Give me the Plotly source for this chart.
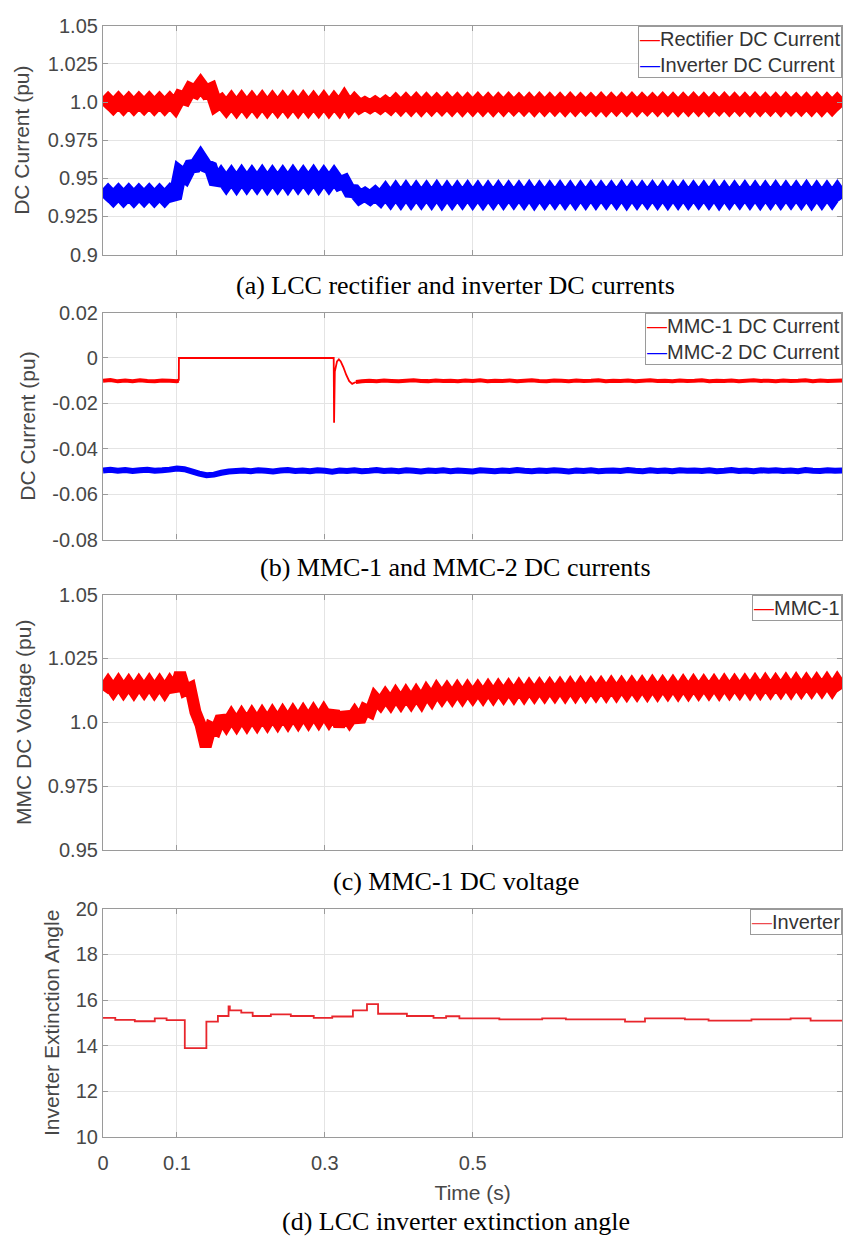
import plotly.graph_objects as go

# ---------------------------------------------------------------- data
# Ripple waveforms are sampled at their turning points (every 1/144 s);
# the thick stroke stands for the high-frequency ripple band around them.
N_RIPPLE = 145
t_ripple = [k / 144 for k in range(N_RIPPLE)]

rectifier_current = [
    0.9972, 1.0008, 0.9973, 1.0009, 0.9972, 1.0008, 0.9971, 1.0008, 0.9973, 1.0009,
    0.9972, 1.0008, 0.9972, 1.0009, 0.9971, 1.0033, 1.0022, 1.0083, 1.0067, 1.0113,
    1.0067, 1.0083, 0.9982, 1.0005, 0.9963, 1.0007, 0.9962, 1.0008, 0.9963, 1.0007,
    0.9963, 1.0008, 0.9962, 1.0007, 0.9963, 1.0008, 0.9963, 1.0007, 0.9962, 1.0008,
    0.9963, 1.0007, 0.9963, 1.0008, 0.9962, 1.0007, 0.9965, 1.0018, 0.9965, 1.0005,
    0.9970, 0.9990, 0.9970, 0.9992, 0.9969, 0.9995, 0.9968, 1.0003, 0.9967, 1.0003,
    0.9967, 1.0004, 0.9966, 1.0003, 0.9967, 1.0003, 0.9968, 1.0004, 0.9967, 1.0003,
    0.9966, 1.0003, 0.9967, 1.0004, 0.9967, 1.0003, 0.9966, 1.0003, 0.9967, 1.0004,
    0.9968, 1.0003, 0.9967, 1.0003, 0.9966, 1.0004, 0.9967, 1.0003, 0.9967, 1.0003,
    0.9966, 1.0004, 0.9967, 1.0003, 0.9968, 1.0003, 0.9967, 1.0004, 0.9966, 1.0003,
    0.9967, 1.0003, 0.9967, 1.0004, 0.9966, 1.0003, 0.9968, 1.0003, 0.9967, 1.0004,
    0.9967, 1.0003, 0.9966, 1.0003, 0.9967, 1.0004, 0.9967, 1.0003, 0.9966, 1.0003,
    0.9968, 1.0004, 0.9967, 1.0003, 0.9967, 1.0003, 0.9966, 1.0004, 0.9967, 1.0003,
    0.9967, 1.0003, 0.9966, 1.0004, 0.9968, 1.0003, 0.9967, 1.0003, 0.9967, 1.0004,
    0.9966, 1.0003, 0.9967, 1.0003, 0.9967,
]

inverter_current = [
    0.9370, 0.9406, 0.9371, 0.9407, 0.9370, 0.9406, 0.9369, 0.9406, 0.9371, 0.9407,
    0.9370, 0.9406, 0.9370, 0.9407, 0.9369, 0.9538, 0.9512, 0.9578, 0.9582, 0.9633,
    0.9582, 0.9568, 0.9465, 0.9514, 0.9466, 0.9514, 0.9465, 0.9515, 0.9466, 0.9514,
    0.9466, 0.9515, 0.9465, 0.9514, 0.9466, 0.9514, 0.9465, 0.9515, 0.9466, 0.9514,
    0.9466, 0.9515, 0.9465, 0.9514, 0.9466, 0.9514, 0.9466, 0.9480, 0.9418, 0.9415,
    0.9375, 0.9395, 0.9372, 0.9400, 0.9368, 0.9412, 0.9366, 0.9414, 0.9366, 0.9415,
    0.9366, 0.9414, 0.9367, 0.9414, 0.9366, 0.9415, 0.9365, 0.9414, 0.9366, 0.9414,
    0.9367, 0.9415, 0.9366, 0.9414, 0.9365, 0.9414, 0.9366, 0.9415, 0.9366, 0.9414,
    0.9367, 0.9414, 0.9366, 0.9415, 0.9365, 0.9414, 0.9366, 0.9414, 0.9367, 0.9415,
    0.9366, 0.9414, 0.9365, 0.9414, 0.9366, 0.9415, 0.9366, 0.9414, 0.9367, 0.9414,
    0.9366, 0.9415, 0.9365, 0.9414, 0.9366, 0.9414, 0.9367, 0.9415, 0.9366, 0.9414,
    0.9365, 0.9414, 0.9366, 0.9415, 0.9366, 0.9414, 0.9367, 0.9414, 0.9366, 0.9415,
    0.9365, 0.9414, 0.9366, 0.9414, 0.9367, 0.9415, 0.9366, 0.9414, 0.9365, 0.9414,
    0.9366, 0.9415, 0.9366, 0.9414, 0.9367, 0.9414, 0.9366, 0.9415, 0.9365, 0.9414,
    0.9366, 0.9414, 0.9367, 0.9415, 0.9366,
]

mmc1_voltage = [
    1.0123, 1.0153, 1.0124, 1.0154, 1.0123, 1.0152, 1.0122, 1.0153, 1.0124, 1.0154,
    1.0123, 1.0153, 1.0122, 1.0154, 1.0124, 1.0193, 1.0125, 1.0135, 1.0040, 0.9990,
    0.9905, 0.9980, 0.9970, 1.0021, 0.9990, 1.0023, 0.9992, 1.0025, 0.9994, 1.0027,
    0.9996, 1.0029, 0.9998, 1.0031, 1.0000, 1.0033, 1.0002, 1.0035, 1.0004, 1.0037,
    1.0006, 1.0039, 1.0008, 1.0041, 1.0009, 1.0041, 0.9985, 1.0035, 1.0005, 1.0035,
    1.0005, 1.0050, 1.0040, 1.0095, 1.0072, 1.0103, 1.0075, 1.0108, 1.0078, 1.0110,
    1.0080, 1.0112, 1.0082, 1.0119, 1.0090, 1.0126, 1.0097, 1.0127, 1.0098, 1.0129,
    1.0099, 1.0130, 1.0101, 1.0131, 1.0102, 1.0133, 1.0103, 1.0134, 1.0105, 1.0135,
    1.0106, 1.0137, 1.0107, 1.0138, 1.0109, 1.0139, 1.0110, 1.0140, 1.0111, 1.0141,
    1.0111, 1.0142, 1.0112, 1.0143, 1.0113, 1.0143, 1.0114, 1.0144, 1.0114, 1.0145,
    1.0115, 1.0145, 1.0116, 1.0146, 1.0117, 1.0147, 1.0117, 1.0148, 1.0118, 1.0148,
    1.0119, 1.0149, 1.0119, 1.0150, 1.0120, 1.0151, 1.0121, 1.0151, 1.0122, 1.0152,
    1.0122, 1.0153, 1.0123, 1.0153, 1.0124, 1.0154, 1.0124, 1.0155, 1.0125, 1.0156,
    1.0126, 1.0156, 1.0127, 1.0157, 1.0127, 1.0158, 1.0128, 1.0158, 1.0129, 1.0159,
    1.0130, 1.0160, 1.0130, 1.0161, 1.0131,
]

# MMC-1 DC current: noisy level, blocked interval with spike, noisy level again
mmc1_t_pre = [0.00, 0.01, 0.02, 0.03, 0.04, 0.05, 0.06, 0.07, 0.08, 0.09, 0.10, 0.1025]
mmc1_i_pre = [-0.0100, -0.0097, -0.0103, -0.0099, -0.0102, -0.0098, -0.0101, -0.0103,
              -0.0099, -0.0100, -0.0102, -0.0100]
mmc1_t_mid = [0.1025, 0.1027, 0.3120, 0.3125, 0.3135, 0.3165, 0.3190, 0.3215, 0.3250,
              0.3290, 0.3330, 0.3370, 0.3420]
mmc1_i_mid = [-0.0100, 0.0000, 0.0000, -0.0285, -0.0060, -0.0015, -0.0006, -0.0015,
              -0.0040, -0.0075, -0.0102, -0.0114, -0.0106]
mmc1_t_post = [0.342] + [round(0.35 + 0.01 * k, 2) for k in range(66)]
mmc1_i_post = [
    -0.0106, -0.0103, -0.0100, -0.0102, -0.0099, -0.0101, -0.0103, -0.0100, -0.0098, -0.0101,
    -0.0102, -0.0099, -0.0101, -0.0100, -0.0103, -0.0099, -0.0101, -0.0098, -0.0102, -0.0100,
    -0.0101, -0.0099, -0.0102, -0.0100, -0.0098, -0.0101, -0.0103, -0.0099, -0.0100, -0.0102,
    -0.0099, -0.0101, -0.0100, -0.0098, -0.0102, -0.0100, -0.0101, -0.0099, -0.0103, -0.0100,
    -0.0098, -0.0101, -0.0100, -0.0102, -0.0099, -0.0101, -0.0100, -0.0098, -0.0102, -0.0100,
    -0.0101, -0.0099, -0.0102, -0.0100, -0.0098, -0.0101, -0.0100, -0.0102, -0.0099, -0.0101,
    -0.0100, -0.0098, -0.0102, -0.0099, -0.0101, -0.0100, -0.0099,
]

mmc2_t = [round(0.01 * k, 2) for k in range(101)]
mmc2_i = [
    -0.0496, -0.0493, -0.0497, -0.0494, -0.0498, -0.0495, -0.0493, -0.0497, -0.0495, -0.0492,
    -0.0487, -0.0490, -0.0500, -0.0510, -0.0517, -0.0514, -0.0506, -0.0500, -0.0498, -0.0496,
    -0.0499, -0.0495, -0.0497, -0.0500, -0.0496, -0.0494, -0.0498, -0.0496, -0.0499, -0.0495,
    -0.0497, -0.0501, -0.0496, -0.0498, -0.0495, -0.0499, -0.0497, -0.0494, -0.0498, -0.0496,
    -0.0499, -0.0495, -0.0497, -0.0500, -0.0496, -0.0498, -0.0495, -0.0499, -0.0496, -0.0498,
    -0.0500, -0.0495, -0.0497, -0.0499, -0.0496, -0.0498, -0.0494, -0.0497, -0.0499, -0.0496,
    -0.0498, -0.0495, -0.0497, -0.0500, -0.0496, -0.0498, -0.0495, -0.0499, -0.0497, -0.0496,
    -0.0498, -0.0494, -0.0497, -0.0499, -0.0495, -0.0498, -0.0496, -0.0499, -0.0495, -0.0497,
    -0.0496, -0.0498, -0.0495, -0.0499, -0.0497, -0.0494, -0.0498, -0.0496, -0.0499, -0.0495,
    -0.0497, -0.0495, -0.0498, -0.0496, -0.0499, -0.0494, -0.0497, -0.0498, -0.0495, -0.0497,
    -0.0496,
]

# Inverter extinction angle (deg), piecewise constant
gamma_t = [0.0, 0.0166, 0.043, 0.070, 0.086, 0.1106, 0.1398, 0.1554, 0.1698, 0.1715,
           0.187, 0.2024, 0.227, 0.254, 0.285, 0.310, 0.338, 0.357, 0.372, 0.411,
           0.447, 0.464, 0.482, 0.536, 0.594, 0.626, 0.706, 0.733, 0.787, 0.819,
           0.877, 0.930, 0.957, 1.0]
gamma_v = [15.22, 15.13, 15.07, 15.20, 15.12, 13.89, 15.05, 15.30, 15.72, 15.55,
           15.45, 15.30, 15.37, 15.30, 15.22, 15.28, 15.55, 15.82, 15.40, 15.30,
           15.22, 15.29, 15.20, 15.15, 15.20, 15.15, 15.05, 15.20, 15.15, 15.10,
           15.15, 15.20, 15.10, 15.10]

x_tickvals = [0, 0.1, 0.3, 0.5, 1.0]
x_ticktext = ["0", "0.1", "0.3", "0.5", "1.0"]

y_ticks = [
    ([0.9, 0.925, 0.95, 0.975, 1.0, 1.025, 1.05],
     ["0.9", "0.925", "0.95", "0.975", "1.0", "1.025", "1.05"]),
    ([-0.08, -0.06, -0.04, -0.02, 0, 0.02],
     ["-0.08", "-0.06", "-0.04", "-0.02", "0", "0.02"]),
    ([0.95, 0.975, 1.0, 1.025, 1.05],
     ["0.95", "0.975", "1.0", "1.025", "1.05"]),
    ([10, 12, 14, 16, 18, 20],
     ["10", "12", "14", "16", "18", "20"]),
]
y_ranges = [[0.9, 1.05], [-0.08, 0.02], [0.95, 1.05], [10, 20]]
y_titles = ["DC Current (pu)", "DC Current (pu)", "MMC DC Voltage (pu)",
            "Inverter Extinction Angle"]
captions = ["(a) LCC rectifier and inverter DC currents",
            "(b) MMC-1 and MMC-2 DC currents",
            "(c) MMC-1 DC voltage",
            "(d) LCC inverter extinction angle"]

# ---------------------------------------------------------------- layout geometry
W, H = 856, 1249
PX_LEFT, PX_RIGHT = 97.7, 842.3
panel_px = [(15, 248), (307, 538), (594, 854), (914, 1146)]
caption_px = [279, 566, 886, 1232]
CAPTION_X = 453
title_standoff = [12, 10, 10, 10]

RED = "#ff0000"
BLUE = "#0000ff"
AXIS_GREY = "#9a9a9a"
GRID_GREY = "#e4e4e4"
TEXT_GREY = "#474747"
SANS = "Liberation Sans, Arial, sans-serif"
SERIF = "Liberation Serif, Times New Roman, serif"


def line_trace(x, y, color, width, name, axis, shape="linear"):
    return go.Scatter(x=x, y=y, mode="lines", name=name,
                      line=dict(color=color, width=width, shape=shape, simplify=False),
                      xaxis="x" + axis, yaxis="y" + axis)


fig = go.Figure()

# (a) LCC DC currents
fig.add_trace(line_trace(t_ripple, rectifier_current, RED, 14, "Rectifier DC Current", ""))
fig.add_trace(line_trace(t_ripple, inverter_current, BLUE, 14, "Inverter DC Current", ""))

# (b) MMC DC currents
fig.add_trace(line_trace(mmc1_t_pre, mmc1_i_pre, RED, 4, "MMC-1 DC Current", "2"))
fig.add_trace(line_trace(mmc1_t_mid, mmc1_i_mid, RED, 1.8, "MMC-1 DC Current", "2"))
fig.add_trace(line_trace(mmc1_t_post, mmc1_i_post, RED, 4, "MMC-1 DC Current", "2"))
fig.add_trace(line_trace(mmc2_t, mmc2_i, BLUE, 6, "MMC-2 DC Current", "2"))

# (c) MMC-1 DC voltage
fig.add_trace(line_trace(t_ripple, mmc1_voltage, RED, 12, "MMC-1", "3"))

# (d) extinction angle
fig.add_trace(line_trace(gamma_t, gamma_v, "#e8262c", 1.8, "Inverter", "4", shape="hv"))

layout = dict(
    width=W, height=H,
    margin=dict(l=0, r=0, t=0, b=0),
    paper_bgcolor="white", plot_bgcolor="white",
    showlegend=False,
    font=dict(family=SANS, color=TEXT_GREY, size=20),
)

for i in range(4):
    top, bot = panel_px[i]
    sfx = "" if i == 0 else str(i + 1)
    last = i == 3
    layout["xaxis" + sfx] = dict(
        domain=[PX_LEFT / W, PX_RIGHT / W],
        anchor="y" + sfx,
        range=[0, 1],
        tickvals=x_tickvals, ticktext=x_ticktext,
        showticklabels=last, ticklabelstandoff=8,
        tickfont=dict(size=20, color=TEXT_GREY),
        ticks="inside", ticklen=5, tickcolor=AXIS_GREY,
        showgrid=True, gridcolor=GRID_GREY, gridwidth=1,
        showline=True, linecolor=AXIS_GREY, linewidth=1.2, mirror="ticks",
        zeroline=False,
        title=dict(text="Time (s)" if last else "", font=dict(size=21, color=TEXT_GREY),
                   standoff=12),
    )
    vals, texts = y_ticks[i]
    layout["yaxis" + sfx] = dict(
        domain=[1 - bot / H, 1 - top / H],
        anchor="x" + sfx,
        range=y_ranges[i],
        tickvals=vals, ticktext=texts,
        tickfont=dict(size=20, color=TEXT_GREY),
        ticks="inside", ticklen=5, tickcolor=AXIS_GREY,
        showgrid=True, gridcolor=GRID_GREY, gridwidth=1,
        showline=True, linecolor=AXIS_GREY, linewidth=1.2, mirror="ticks",
        zeroline=False,
        title=dict(text=y_titles[i], font=dict(size=21, color=TEXT_GREY),
                   standoff=title_standoff[i]),
    )

fig.update_layout(**layout)

# legend boxes, drawn in the top-right corner of each panel
legend_texts = [
    [("Rectifier DC Current", RED), ("Inverter DC Current", BLUE)],
    [("MMC-1 DC Current", RED), ("MMC-2 DC Current", BLUE)],
    [("MMC-1", RED)],
    [("Inverter", "#ee4a4f")],
]
for i, entries in enumerate(legend_texts):
    sfx = "" if i == 0 else str(i + 1)
    txt = "<br>".join(
        f"<span style='color:{c}'>\u2014</span>{name}" for name, c in entries)
    fig.add_annotation(
        xref=f"x{sfx} domain", yref=f"y{sfx} domain", x=1, y=1,
        xanchor="right", yanchor="top", showarrow=False, align="left",
        text=txt, font=dict(family=SANS, size=20, color="#333333"),
        bgcolor="white", bordercolor=AXIS_GREY, borderwidth=1, borderpad=1,
    )

# panel captions
for cap, yc in zip(captions, caption_px):
    fig.add_annotation(
        xref="paper", yref="paper", x=CAPTION_X / W, y=1 - yc / H,
        xanchor="center", yanchor="middle", showarrow=False,
        text=cap, font=dict(family=SERIF, size=26, color="black"),
    )

fig.write_html("out.html")
